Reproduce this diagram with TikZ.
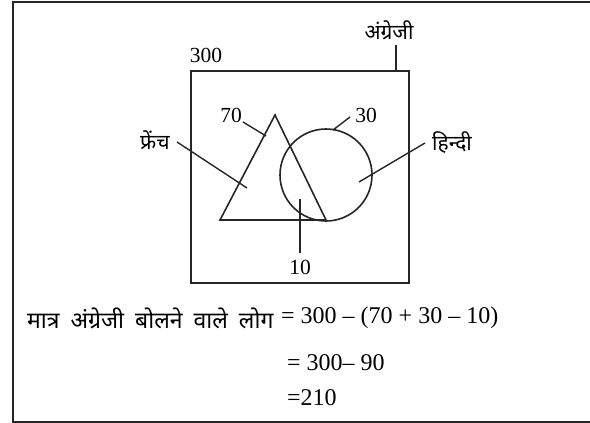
\documentclass[tikz,border=0pt]{standalone}
\usepackage{fontspec}
\setmainfont{Liberation Serif}
\newfontfamily\devfont[Script=Devanagari]{Noto Sans}
\usetikzlibrary{positioning}
\tikzset{
  frameline/.style={line width=2.8pt,black!85},
  boxline/.style={line width=2.1pt,black!85},
  setline/.style={line width=1.6pt,black!85},
  leader/.style={line width=1.4pt,black!85},
  thickleader/.style={line width=2.6pt,black!85},
  num/.style={inner sep=0pt,font=\fontsize{21.5}{24}\selectfont},
  dlbl/.style={inner sep=0pt,font=\fontsize{21}{24}\selectfont\devfont},
  eqn/.style={inner sep=0pt,anchor=west,font=\fontsize{24}{28}\selectfont},
}
\newcommand{\wgap}{\hspace{11pt}}

\begin{document}
\begin{tikzpicture}[x=1pt,y=-1pt]
  \useasboundingbox (0,0) rectangle (590,423);
  \draw[frameline] (590,2) -- (13,2) -- (13,422) -- (590,422);
  % universe: English
  \node[draw,boxline,minimum width=218pt,minimum height=212pt,inner sep=0pt](eng) at (300,177){};
  \node[num](n300) at (206,55){300};
  \node[dlbl](english) at (389,30){अंग्रेजी};
  \coordinate (engtop) at (396,45);
  \draw[thickleader] (engtop)--(engtop |- eng.north);
  % French triangle and Hindi circle
  \coordinate (fa) at (275,115); \coordinate (fl) at (220,220); \coordinate (fr) at (326,220);
  \draw[setline] (fr)--(fl)--(fa)--(fr);
  \node[circle,draw,setline,minimum size=92pt,inner sep=0pt](hindi) at (326,175){};
  \node[dlbl](french) at (155,140){फ्रेंच};
  \node[dlbl](hindilbl) at (452,143){हिन्दी};
  \node[num](n70) at (231,115){70};
  \node[num](n30) at (366,115){30};
  \node[num](n10) at (300,267){10};
  \coordinate (c70a) at (243,122); \coordinate (c70b) at (266,136);
  \coordinate (c30a) at (350,117); \coordinate (c30b) at (333,130);
  \coordinate (cfra) at (177,142); \coordinate (cfrb) at (247,188);
  \coordinate (chia) at (425,143); \coordinate (chib) at (359,182);
  \coordinate (c10a) at (300,199); \coordinate (c10b) at (300,253);
  \draw[leader] (c70a)--(c70b); \draw[leader] (c30a)--(c30b);
  \draw[leader] (cfra)--(cfrb); \draw[leader] (chia)--(chib);
  \draw[thickleader] (c10a)--(c10b);
  % working
  \node[dlbl,anchor=west,font=\fontsize{23}{28}\selectfont\devfont](lhs) at (27,318){मात्र\wgap अंग्रेजी\wgap बोलने\wgap वाले\wgap लोग};
  \node[eqn](eq1) at (281,318){= 300 – (70 + 30 – 10)};
  \node[eqn](eq2) at (287,363){= 300– 90};
  \node[eqn](eq3) at (287,398){=210};
\end{tikzpicture}
\end{document}
